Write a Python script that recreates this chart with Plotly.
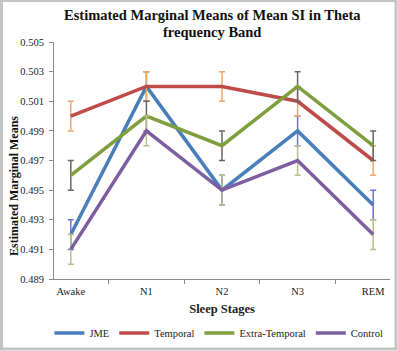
import plotly.graph_objects as go

stages = ["Awake", "N1", "N2", "N3", "REM"]
jme = [0.492, 0.502, 0.495, 0.499, 0.494]
temporal = [0.500, 0.502, 0.502, 0.501, 0.497]
extra_temporal = [0.496, 0.500, 0.498, 0.502, 0.498]
control = [0.491, 0.499, 0.495, 0.497, 0.492]
err = [0.001, 0.001, 0.001, 0.001, 0.001]

series = [
    ("JME", jme, "#4A7EBB", "#7070D0"),
    ("Temporal", temporal, "#BE4B48", "#F2A66A"),
    ("Extra-Temporal", extra_temporal, "#7F9F3F", "#666666"),
    ("Control", control, "#7D5FA0", "#B8BF88"),
]

W, H = 398, 351
L, R, T, B = 54, 8, 42, 72
pw, ph = W - L - R, H - T - B

def px_x(x):
    return (x - L) / pw

def px_y(y):
    return (H - B - y) / ph

fig = go.Figure()
for name, vals, col, ecol in series:
    fig.add_trace(go.Scatter(
        x=stages, y=vals, name=name, mode="lines",
        line=dict(color=col, width=3.5),
        error_y=dict(type="data", array=err, visible=True, color=ecol,
                     thickness=1.5, width=3),
    ))

serif = "Liberation Serif, serif"
fig.update_layout(
    width=W, height=H,
    margin=dict(l=L, r=R, t=T, b=B, autoexpand=False),
    paper_bgcolor="white", plot_bgcolor="white",
    font=dict(family=serif, size=10, color="#222222"),
    xaxis=dict(showgrid=False, showline=True, linecolor="#8A8A8A", linewidth=1,
               ticks="outside", tickson="boundaries", ticklen=4, tickcolor="#8A8A8A",
               tickfont=dict(family=serif, size=10.5), ticklabelstandoff=2,
               title=dict(text="<b>Sleep Stages</b>", font=dict(family=serif, size=12.5), standoff=8),
               zeroline=False, automargin=False),
    yaxis=dict(range=[0.489, 0.505], tickvals=[0.489, 0.491, 0.493, 0.495, 0.497, 0.499, 0.501, 0.503, 0.505],
               tickformat=".3f", showgrid=False, showline=True, linecolor="#8A8A8A", linewidth=1,
               ticks="outside", ticklen=4, tickcolor="#8A8A8A", ticklabelstandoff=3,
               tickfont=dict(family=serif, size=10.5), zeroline=False, automargin=False),
    showlegend=True,
    legend=dict(orientation="h", x=0.55, xref="container", xanchor="center",
                y=1 - 333 / H, yref="container", yanchor="middle",
                font=dict(family=serif, size=10.5), itemwidth=30, tracegroupgap=0,
                bgcolor="rgba(0,0,0,0)"),
)

fig.add_annotation(text="<b>Estimated Marginal Means of Mean SI in Theta</b>",
                   xref="paper", yref="paper", x=px_x(212), y=px_y(15),
                   xanchor="center", yanchor="middle", showarrow=False,
                   font=dict(family=serif, size=14.5, color="#111111"))
fig.add_annotation(text="<b>frequency Band</b>",
                   xref="paper", yref="paper", x=px_x(212), y=px_y(32),
                   xanchor="center", yanchor="middle", showarrow=False,
                   font=dict(family=serif, size=14.5, color="#111111"))

fig.add_annotation(text="<b>Estimated Marginal Means</b>", textangle=-90,
                   xref="paper", yref="paper", x=px_x(14), y=px_y(186),
                   xanchor="center", yanchor="middle",
                   showarrow=False, font=dict(family=serif, size=12, color="#111111"))

fig.add_shape(type="rect", xref="paper", yref="paper",
              x0=-(L - 1.5) / pw, x1=1 + (R - 2) / pw,
              y0=-(B - 2) / ph, y1=1 + (T - 0.5) / ph,
              line=dict(color="#C4C4C4", width=3), layer="below")

fig.write_html("out.html")
